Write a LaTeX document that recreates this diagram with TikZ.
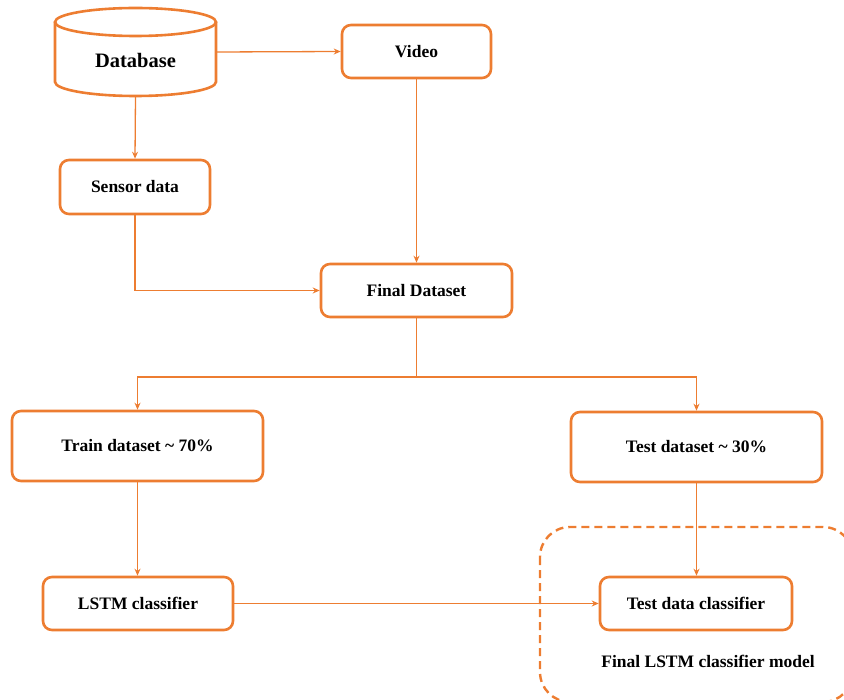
\documentclass[tikz,border=0pt]{standalone}
\usepackage{fontspec}
\setmainfont{Liberation Serif}
\usetikzlibrary{arrows.meta}
\definecolor{org}{HTML}{ED7D31}
\begin{document}
\begin{tikzpicture}[x=1pt,y=-1pt,
  box/.style={draw=org,line width=2.6pt,rounded corners=9pt,fill=white,inner sep=0pt,
    font=\fontsize{17.5}{20}\selectfont\bfseries},
  conn/.style={draw=org,line width=1.3pt,-{Stealth[length=7pt,width=6pt]}},
  plain/.style={draw=org,line width=1.3pt},
  lbl/.style={font=\fontsize{17.5}{20}\selectfont\bfseries,inner sep=0pt}]
\useasboundingbox (0,0) rectangle (844,700);
\begin{scope}
\clip (0,0) rectangle (844,700);
\draw[org,line width=2.4pt,dashed,dash pattern=on 8pt off 5pt,rounded corners=30pt]
  (540,527) rectangle (853,702);
\end{scope}
% database cylinder
\node[minimum width=161pt,minimum height=88pt,inner sep=0pt] (db) at (135.5,52) {};
\draw[org,line width=2.6pt,fill=white]
  (55,22) -- (55,82) arc[start angle=180,end angle=360,x radius=80.5pt,y radius=14pt] -- (216,22);
\draw[org,line width=2.6pt] (135.5,22) ellipse[x radius=80.5pt,y radius=14pt];
\node[lbl,font=\fontsize{20.5}{24}\selectfont\bfseries] (dbt) at (135.5,60) {Database};
% boxes
\node[box,minimum width=149pt,minimum height=53pt] (video) at (416.5,51.5) {Video};
\node[box,minimum width=150pt,minimum height=54pt] (sensor) at (135,187) {Sensor data};
\node[box,minimum width=191pt,minimum height=53pt] (final) at (416.5,290.5) {Final Dataset};
\node[box,minimum width=251pt,minimum height=70pt] (train) at (137.5,446) {Train dataset \textasciitilde{} 70\%};
\node[box,minimum width=251pt,minimum height=70pt] (test) at (696.5,447) {Test dataset \textasciitilde{} 30\%};
\node[box,minimum width=190pt,minimum height=53pt] (lstm) at (138,603.5) {LSTM classifier};
\node[box,minimum width=192pt,minimum height=53pt] (tdc) at (696,603.5) {Test data classifier};
\node[lbl] (model) at (708,661) {Final LSTM classifier model};
% connectors
\draw[conn] (db.east) -- (video.west);
\draw[conn] (db.south) -- (sensor.north);
\draw[conn] (video.south) -- (final.north);
\draw[conn] (sensor.south) |- (final.west);
\coordinate (split) at (416.5,377);
\draw[plain] (final.south) -- (split);
\draw[conn] (split) -| (train.north);
\draw[conn] (split) -| (test.north);
\draw[conn] (train.south) -- (lstm.north -| train.south);
\draw[conn] (test.south) -- (tdc.north -| test.south);
\draw[conn] (lstm.east) -- (tdc.west);
\end{tikzpicture}
\end{document}
